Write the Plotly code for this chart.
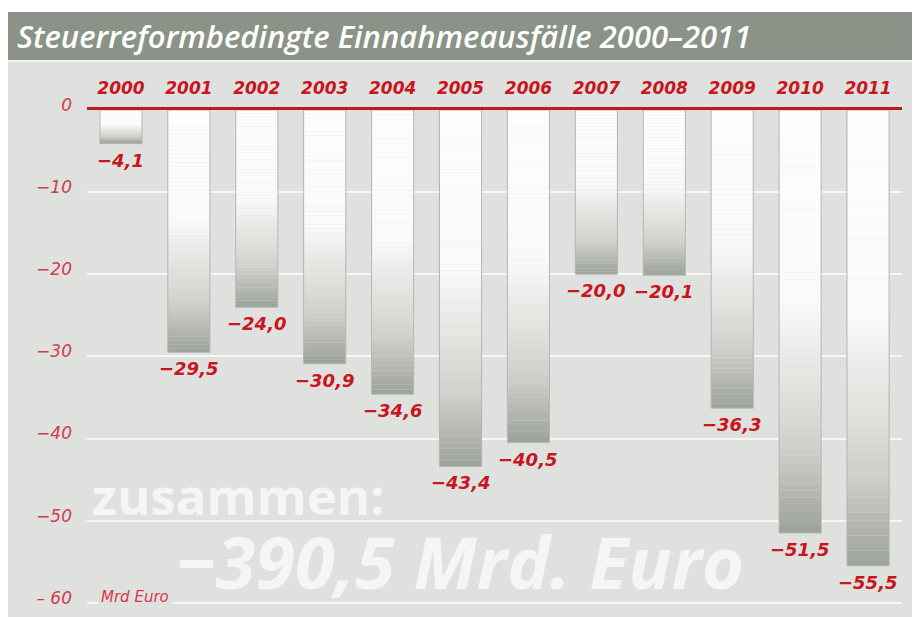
import plotly.graph_objects as go

years = ["2000", "2001", "2002", "2003", "2004", "2005", "2006", "2007", "2008", "2009", "2010", "2011"]
values = [-4.1, -29.5, -24.0, -30.9, -34.6, -43.4, -40.5, -20.0, -20.1, -36.3, -51.5, -55.5]
value_labels = ["−4,1", "−29,5", "−24,0", "−30,9", "−34,6", "−43,4", "−40,5", "−20,0", "−20,1", "−36,3", "−51,5", "−55,5"]
tick_vals = [0, -10, -20, -30, -40, -50, -60]
tick_text = ["0", "−10", "−20", "−30", "−40", "−50", "– 60"]
title_text = "Steuerreformbedingte Einnahmeausfälle 2000–2011"
total_line1 = "zusammen:"
total_line2 = "−390,5 Mrd. Euro"
unit_text = "Mrd Euro"

RED = "#c8161f"
TICK_RED = "#d23a50"
PANEL = "#dfe1de"
TITLE_BG = "#8b9287"

# gradient: bars built from overlaid slices, white at top to grey at bottom
N = 60
def grad_color(f):
    stops = [(0.0, (253, 253, 252)), (0.45, (250, 250, 249)), (0.8, (206, 209, 203)), (1.0, (156, 161, 153))]
    for (f0, c0), (f1, c1) in zip(stops[:-1], stops[1:]):
        if f <= f1:
            t = (f - f0) / (f1 - f0)
            c = [round(a + (b - a) * t) for a, b in zip(c0, c1)]
            return "rgb(%d,%d,%d)" % tuple(c)
    return "rgb(%d,%d,%d)" % stops[-1][1]

fig = go.Figure()
for k in range(N):
    fig.add_trace(go.Bar(
        x=years, y=[v / N * 1.02 for v in values], base=[k * v / N for v in values],
        marker=dict(color=grad_color((k + 0.5) / N), line=dict(width=0)),
        showlegend=False, hoverinfo="skip",
    ))
# thin outline of each bar
fig.add_trace(go.Bar(
    x=years, y=values,
    marker=dict(color="rgba(0,0,0,0)", line=dict(width=1, color="#b3b6b0")),
    showlegend=False, hoverinfo="skip",
))

# value labels below each bar end (x given as category index)
for i, (v, lab) in enumerate(zip(values, value_labels)):
    fig.add_annotation(x=i, y=v, text=lab, showarrow=False, yanchor="top", yshift=-4,
                       font=dict(family="DejaVu Sans", size=18, color=RED, weight="bold", style="italic"))

fig.update_layout(
    width=920, height=617,
    margin=dict(l=79, r=26, t=102, b=14),
    paper_bgcolor=PANEL, plot_bgcolor=PANEL,
    barmode="overlay", bargap=0.38,
    xaxis=dict(
        side="top", type="category", range=[-0.5, len(years) - 0.5],
        showgrid=False, zeroline=False, automargin=False,
        showline=True, linecolor=RED, linewidth=3,
        ticks="", ticklabelstandoff=6,
        tickfont=dict(family="DejaVu Sans", size=17, color=RED, weight="bold", style="italic"),
    ),
    yaxis=dict(
        range=[-61, 0], tickvals=tick_vals, ticktext=tick_text, automargin=False,
        showgrid=True, gridcolor="#f6f7f5", gridwidth=2, zeroline=False,
        ticks="", ticklabelstandoff=14, ticklabelshift=-5,
        tickfont=dict(family="DejaVu Sans", size=17, color=TICK_RED, style="italic"),
    ),
    font=dict(family="DejaVu Sans"),
)

# frame: title bar and thin separator
fig.add_shape(type="rect", xref="paper", yref="paper", x0=-0.2, x1=1.1, y0=1.1956, y1=1.3,
              fillcolor="white", line=dict(width=0), layer="below")
fig.add_shape(type="rect", xref="paper", yref="paper", x0=-0.2, x1=1.1, y0=1.0998, y1=1.1956,
              fillcolor=TITLE_BG, line=dict(width=0), layer="below")
fig.add_shape(type="rect", xref="paper", yref="paper", x0=-0.2, x1=1.1, y0=1.0958, y1=1.0998,
              fillcolor="#f0f1ef", line=dict(width=0), layer="below")

fig.add_annotation(text=title_text, xref="paper", yref="paper", x=-0.088, y=1.1477,
                   xanchor="left", yanchor="middle", showarrow=False,
                   font=dict(family="Open Sans", size=31, color="white", weight=600, style="italic"))

fig.add_annotation(text=total_line1, xref="paper", yref="paper", x=0.1865, y=0.232,
                   xanchor="center", yanchor="middle", showarrow=False,
                   font=dict(family="Open Sans", size=51, color="#f5f6f4", weight="bold"))
fig.add_annotation(text=total_line2, xref="paper", yref="paper", x=0.4577, y=0.100,
                   xanchor="center", yanchor="middle", showarrow=False,
                   font=dict(family="Open Sans", size=72, color="#f5f6f4", weight="bold", style="italic"))
fig.add_annotation(text=unit_text, xref="paper", yref="paper", x=0.0123, y=0.028,
                   xanchor="left", yanchor="middle", showarrow=False, bgcolor=PANEL, borderpad=3,
                   font=dict(family="DejaVu Sans", size=15, color=TICK_RED, style="italic"))

fig.write_html("out.html")
